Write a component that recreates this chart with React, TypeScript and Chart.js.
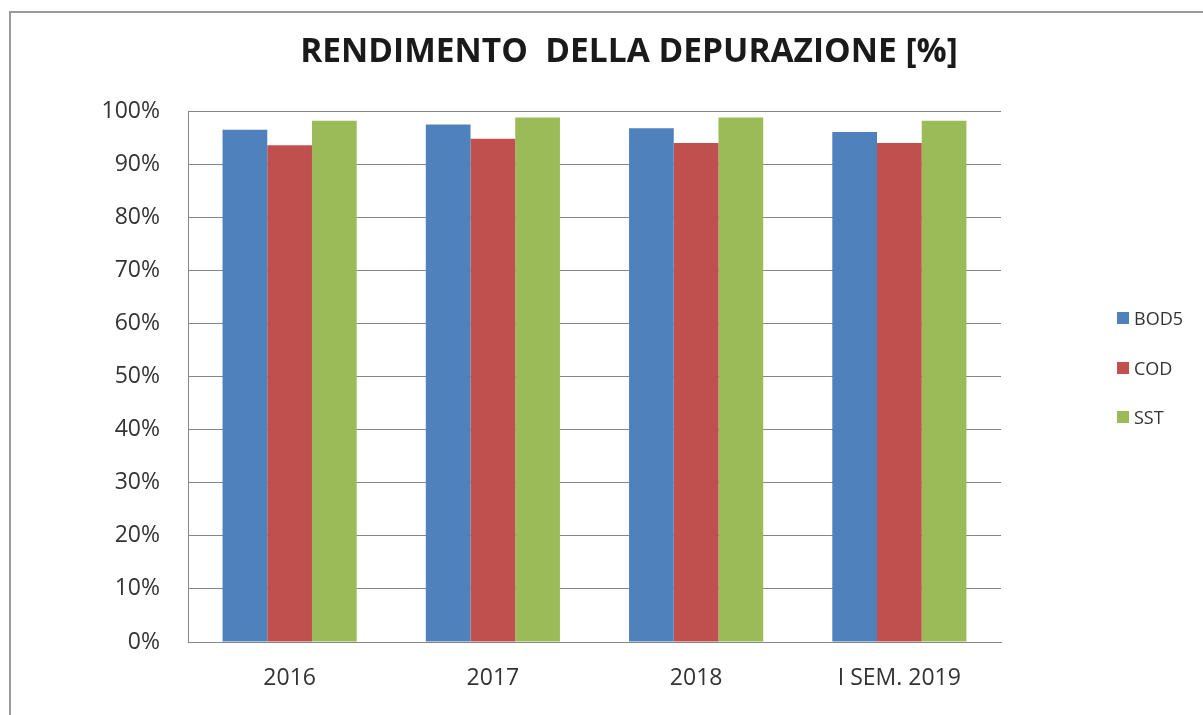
import React, { useEffect, useRef } from "react";
import { Chart, registerables } from "chart.js";

Chart.register(...registerables);

const categories = ["2016", "2017", "2018", "I SEM. 2019"];
const seriesNames = ["BOD5", "COD", "SST"];
const bod5 = [96.5, 97.5, 96.8, 96.1];
const cod = [93.6, 94.8, 94.0, 94.0];
const sst = [98.2, 98.8, 98.8, 98.2];
const colors = ["#4F81BD", "#C0504D", "#9BBB59"];
const yTicks = [0, 10, 20, 30, 40, 50, 60, 70, 80, 90, 100];

const FONT = "'Open Sans', 'Liberation Sans', sans-serif";

const framePlugin = {
  id: "frame",
  beforeDraw(chart: any) {
    const ctx = chart.ctx;
    ctx.save();
    ctx.fillStyle = "#ffffff";
    ctx.fillRect(0, 0, chart.width, chart.height);
    ctx.strokeStyle = "#9a9a9a";
    ctx.lineWidth = 2;
    ctx.beginPath();
    ctx.moveTo(10, chart.height);
    ctx.lineTo(10, 12);
    ctx.lineTo(chart.width, 12);
    ctx.stroke();
    ctx.restore();
  },
};

export default function App() {
  const ref = useRef<HTMLCanvasElement | null>(null);

  useEffect(() => {
    if (!ref.current) return;
    const seriesValues = [bod5, cod, sst];
    const chart = new Chart(ref.current, {
      type: "bar",
      data: {
        labels: categories,
        datasets: seriesNames.map((name, i) => ({
          label: name,
          data: seriesValues[i],
          backgroundColor: colors[i],
          borderWidth: 0,
          categoryPercentage: 0.66,
          barPercentage: 1,
          yAxisID: "y",
        })),
      },
      options: {
        animation: false,
        responsive: false,
        devicePixelRatio: 1,
        layout: { padding: { left: 55, right: 0, top: 0, bottom: 0 } },
        plugins: {
          legend: { display: false },
          tooltip: { enabled: false },
          title: {
            display: true,
            text: "RENDIMENTO  DELLA DEPURAZIONE [%]",
            color: "#1a1a1a",
            font: { family: FONT, size: 33.5, weight: "bold" },
            padding: { top: 32, bottom: 39 },
            fullSize: true,
          },
        },
        scales: {
          x: {
            grid: { display: false, drawTicks: false },
            border: { display: true, color: "#868686", width: 1 },
            ticks: {
              color: "#333333",
              font: { family: FONT, size: 23 },
              padding: 23,
              maxRotation: 0,
            },
            afterFit: (s: any) => {
              s.height = 73;
            },
          },
          y: {
            min: 0,
            max: 100,
            afterBuildTicks: (s: any) => {
              s.ticks = yTicks.map((v) => ({ value: v }));
            },
            grid: { color: "#868686", lineWidth: 1, drawTicks: false },
            border: { display: true, color: "#868686", width: 1 },
            ticks: {
              color: "#333333",
              font: { family: FONT, size: 23 },
              padding: 28,
              callback: (v: any) => `${v}%`,
            },
            afterFit: (s: any) => {
              s.width = 133;
            },
          },
          legendSpace: {
            type: "linear",
            position: "right",
            display: true,
            grid: { display: false, drawTicks: false },
            border: { display: false },
            ticks: { display: false },
            afterFit: (s: any) => {
              s.width = 202;
            },
          },
        },
      },
      plugins: [framePlugin],
    });
    return () => chart.destroy();
  }, []);

  return (
    <div style={{ position: "absolute", left: 0, top: 0, width: 1203, height: 715 }}>
      <canvas ref={ref} width={1203} height={715} style={{ width: 1203, height: 715, display: "block" }} />
      <div style={{ position: "absolute", left: 1117, top: 307, fontFamily: FONT, fontSize: 18, color: "#333333" }}>
        {seriesNames.map((name, i) => (
          <div key={name} style={{ display: "flex", alignItems: "center", height: 22, marginBottom: 27.5 }}>
            <span style={{ display: "inline-block", width: 12, height: 12, background: colors[i], marginRight: 5 }} />
            <span style={{ lineHeight: "22px" }}>{name}</span>
          </div>
        ))}
      </div>
    </div>
  );
}
